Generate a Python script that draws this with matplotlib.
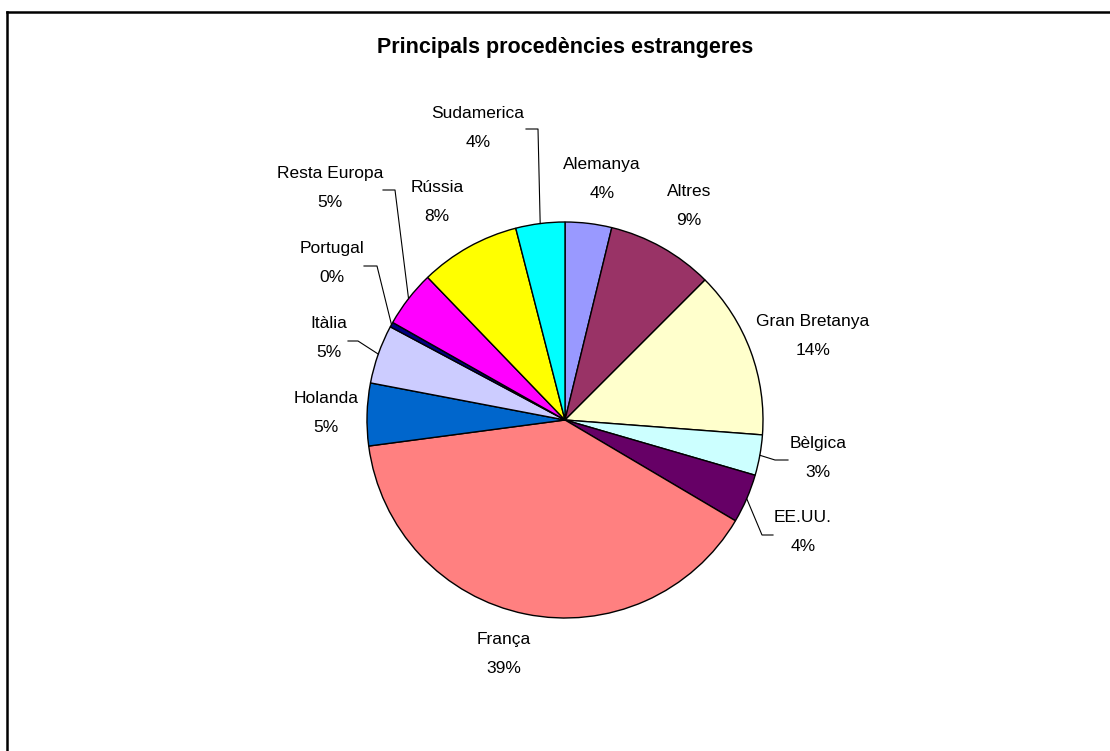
import math

import matplotlib.pyplot as plt
from matplotlib.lines import Line2D

plt.switch_backend("Agg")

# data (percent of foreign visitors)
countries = ["Alemanya", "Altres", "Gran Bretanya", "Bèlgica", "EE.UU.", "França",
             "Holanda", "Itàlia", "Portugal", "Resta Europa", "Rússia", "Sudamerica"]
shares = [3.8, 8.7, 13.7, 3.3, 4.0, 39.4, 5.1, 4.8, 0.4, 4.6, 8.2, 4.0]
colors = ["#9999FF", "#993366", "#FFFFCC", "#CCFFFF", "#660066", "#FF8080",
          "#0066CC", "#CCCCFF", "#000080", "#FF00FF", "#FFFF00", "#00FFFF"]

# layout (pixels of the 1110x751 image)
W, H = 1110, 751
CX, CY, R = 565, 420, 198

label_pos = {
    "Alemanya": (602, 179), "Altres": (689, 206), "Gran Bretanya": (813, 336),
    "Bèlgica": (818, 458), "EE.UU.": (803, 532), "França": (504, 654),
    "Holanda": (326, 413), "Itàlia": (329, 338), "Portugal": (332, 263),
    "Resta Europa": (330, 188), "Rússia": (437, 202), "Sudamerica": (478, 128),
}
# leader lines: label-side start and knee, then to the wedge edge
leaders = {
    "Sudamerica": [(526, 129), (538, 129)],
    "Resta Europa": [(383, 190), (395, 190)],
    "Portugal": [(364, 266), (377, 266)],
    "Itàlia": [(348, 341), (358, 341)],
    "Bèlgica": [(788, 460), (775, 460)],
    "EE.UU.": [(773, 535), (762, 535)],
}


def px(x, y):
    return (x - CX) / R, (CY - y) / R


plt.rcParams["font.family"] = ["Liberation Sans", "DejaVu Sans"]

fig = plt.figure(figsize=(W / 100, H / 100), dpi=100)
ax = fig.add_axes([0, 0, 1, 1])

wedges, _ = ax.pie(shares, colors=colors, startangle=90, counterclock=False,
                   radius=1, center=(0, 0),
                   wedgeprops=dict(edgecolor="black", linewidth=1.0))

ax.set_xlim(-CX / R, (W - CX) / R)
ax.set_ylim((CY - H) / R, CY / R)
ax.set_aspect("auto")
ax.axis("off")

for name, value, w in zip(countries, shares, wedges):
    lx, ly = px(*label_pos[name])
    ax.text(lx, ly, f"{name}\n{value:.0f}%", ha="center", va="center",
            multialignment="center", fontsize=12.5, linespacing=2.15)
    if name in leaders:
        mid = math.radians((w.theta1 + w.theta2) / 2)
        pts = [px(*p) for p in leaders[name]] + [(math.cos(mid), math.sin(mid))]
        ax.plot([p[0] for p in pts], [p[1] for p in pts], color="black", lw=0.8)

ax.text(*px(565, 48), "Principals procedències estrangeres", ha="center",
        va="center", fontsize=15.5, fontweight="bold")

# chart-area border (only top and left edges visible in the crop)
fig.add_artist(Line2D([7 / W, 7 / W], [0, 1 - 12 / H], color="black", lw=1.8,
                      transform=fig.transFigure))
fig.add_artist(Line2D([7 / W, 1], [1 - 12 / H, 1 - 12 / H], color="black", lw=1.8,
                      transform=fig.transFigure))

fig.savefig("out.png", dpi=100)
